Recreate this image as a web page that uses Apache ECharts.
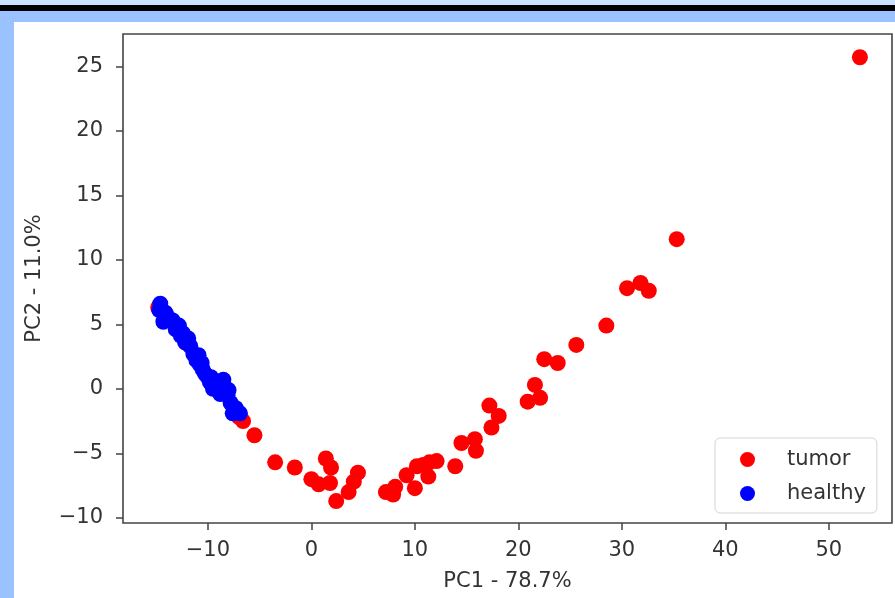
<!DOCTYPE html>
<html>
<head>
<meta charset="utf-8">
<script src="https://cdn.jsdelivr.net/npm/echarts@6/dist/echarts.min.js"></script>
<style>
  html, body { margin: 0; padding: 0; width: 895px; height: 598px; overflow: hidden; background: #99c2ff; }
  #topstrip { position: absolute; left: 0; top: 0; width: 895px; height: 5px; background: #cce0ff; }
  #blackband { position: absolute; left: 0; top: 5px; width: 895px; height: 6px; background: #000; }
  #white { position: absolute; left: 14px; top: 22px; width: 881px; height: 576px; background: #fff; }
  #chart { position: absolute; left: 0; top: 0; width: 895px; height: 598px; }
</style>
</head>
<body>
<div id="topstrip"></div>
<div id="blackband"></div>
<div id="white"></div>
<div id="chart"></div>
<script>
const seriesNames = ['tumor', 'healthy'];
const xTicks = [-10, 0, 10, 20, 30, 40, 50];
const yTicks = [-10, -5, 0, 5, 10, 15, 20, 25];

const tumorX = [53.0, 35.3, 30.5, 31.8, 32.6, 28.5, 25.6, 22.5, 23.8, 21.6, 22.1, 20.9, 17.2, 18.1, 17.4, 15.8, 14.5, 15.9, 13.9, 12.1, 11.4, 10.8, 10.2, 11.3, 9.2, 10.0, 8.1, 7.9, 7.2, 4.5, 4.1, 3.6, 2.4, 1.4, 1.9, 1.8, 0.7, 0.0, -1.6, -3.5, -5.5, -6.6, -7.0, -14.8, -12.0, -9.5];
const tumorY = [25.7, 11.6, 7.8, 8.2, 7.6, 4.9, 3.4, 2.3, 2.0, 0.3, -0.7, -1.0, -1.3, -2.1, -3.0, -3.9, -4.2, -4.8, -6.0, -5.6, -5.7, -5.9, -6.0, -6.8, -6.7, -7.7, -7.6, -8.2, -8.0, -6.5, -7.2, -8.0, -8.7, -5.4, -6.1, -7.3, -7.4, -7.0, -6.1, -5.7, -3.6, -2.5, -2.2, 6.3, 3.5, 0.3];

const healthyX = [-14.6, -14.7, -14.3, -13.4, -13.1, -12.4, -12.2, -11.7, -11.4, -10.9, -10.8, -10.5, -10.1, -9.8, -9.5, -9.0, -8.5, -8.4, -8.1, -8.8, -7.3, -6.9, -7.6, -13.9, -12.8, -11.9, -11.1, -10.3, -9.2, -8.0, -7.8, -14.1, -12.6, -10.6, -9.7];
const healthyY = [6.6, 6.1, 5.2, 5.3, 4.6, 4.3, 3.6, 3.3, 2.7, 2.6, 1.9, 1.5, 1.0, 0.5, 0.0, 0.1, 0.7, -0.3, -0.5, -0.4, -1.5, -1.9, -1.9, 5.6, 4.9, 3.9, 2.2, 1.2, 0.6, -0.1, -1.1, 5.9, 4.1, 2.0, 0.9];

function zip(xs, ys) { return xs.map((x, i) => [x, ys[i]]); }
const fmt = v => String(v).replace('-', '\u2212');
const font = 'DejaVu Sans';
const fs = 21;

const chart = echarts.init(document.getElementById('chart'), null, { renderer: 'canvas' });
chart.setOption({
  backgroundColor: 'transparent',
  animation: false,
  grid: {
    left: 123, top: 34, right: 3, bottom: 75,
    show: true, borderColor: '#444', borderWidth: 1.6, backgroundColor: 'transparent'
  },
  xAxis: {
    type: 'value', min: -18.2, max: 56.1,
    name: 'PC1 - 78.7%', nameLocation: 'middle', nameGap: 48,
    nameTextStyle: { fontFamily: font, fontSize: fs, color: '#333' },
    axisLine: { show: false, onZero: false },
    splitLine: { show: false },
    axisTick: { show: true, inside: false, length: 7, customValues: xTicks, lineStyle: { color: '#444', width: 1.5 } },
    axisLabel: { customValues: xTicks, formatter: fmt, margin: 17, fontFamily: font, fontSize: fs, color: '#333' }
  },
  yAxis: {
    type: 'value', min: -10.4, max: 27.5,
    name: 'PC2 - 11.0%', nameLocation: 'middle', nameGap: 78, nameRotate: 90,
    nameTextStyle: { fontFamily: font, fontSize: fs, color: '#333' },
    axisLine: { show: false, onZero: false },
    splitLine: { show: false },
    axisTick: { show: true, inside: false, length: 7, customValues: yTicks, lineStyle: { color: '#444', width: 1.5 } },
    axisLabel: { customValues: yTicks, formatter: fmt, margin: 20, fontFamily: font, fontSize: fs, color: '#333' }
  },
  legend: {
    data: seriesNames,
    orient: 'vertical',
    left: 715, top: 438,
    padding: [11, 11, 9, 25],
    itemGap: 13,
    itemWidth: 15, itemHeight: 15,
    icon: 'circle',
    backgroundColor: '#fff',
    borderColor: '#d4d4d4', borderWidth: 1, borderRadius: 5,
    textStyle: { fontFamily: font, fontSize: fs, color: '#333', padding: [0, 0, 0, 27] }
  },
  series: [
    {
      name: seriesNames[0], type: 'scatter', symbol: 'circle', symbolSize: 16,
      itemStyle: { color: '#ff0000', opacity: 1 },
      data: zip(tumorX, tumorY)
    },
    {
      name: seriesNames[1], type: 'scatter', symbol: 'circle', symbolSize: 16,
      itemStyle: { color: '#0000ff', opacity: 1 },
      data: zip(healthyX, healthyY)
    }
  ]
});
</script>
</body>
</html>
